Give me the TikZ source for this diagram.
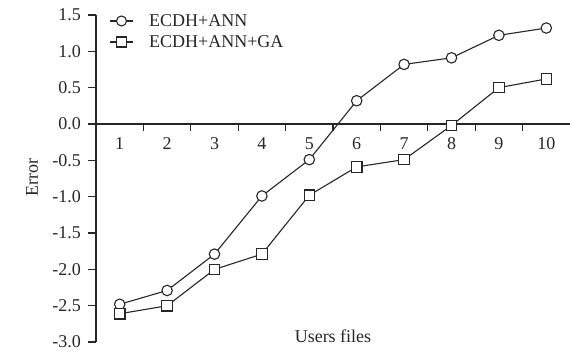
\documentclass[tikz,border=0pt]{standalone}
\usepackage{fontspec}
\setmainfont{Liberation Serif}
\begin{document}
\begin{tikzpicture}[x=1pt,y=1pt,
  axisline/.style={line width=1.3pt,black!85},
  dataline/.style={line width=1.1pt,black!85},
  circmark/.style={circle,draw=black!85,fill=white,line width=1.1pt,inner sep=0pt,minimum size=10.5pt},
  sqmark/.style={rectangle,draw=black!85,fill=white,line width=1.1pt,inner sep=0pt,minimum size=10.5pt},
  lbl/.style={font=\fontsize{18}{20}\selectfont,text=black!85,inner sep=0pt}]
\useasboundingbox (-96,-228) rectangle (474,124);
\def\xu{47.4}
\def\yu{72.7}
% axes
\coordinate (ytop) at (0,1.5*\yu);
\coordinate (ybot) at (0,-3*\yu);
\coordinate (xleft) at (0,0);
\coordinate (xright) at (10*\xu,0);
\draw[axisline] (ytop) -- (ybot);
\draw[axisline] (xleft) -- (xright);
% y ticks and labels
\foreach \v/\t in {1.5/1.5,1.0/1.0,0.5/0.5,0.0/0.0,-0.5/-0.5,-1.0/-1.0,-1.5/-1.5,-2.0/-2.0,-2.5/-2.5,-3.0/-3.0}{
  \draw[axisline] (0,\v*\yu) -- (-8,\v*\yu);
  \node[lbl,anchor=east] (yl\t) at (-15,\v*\yu) {\t};
}
% x ticks and labels
\foreach \k in {1,...,9}{
  \draw[axisline] (\k*\xu,0) -- (\k*\xu,-7);
}
\foreach \i in {1,...,10}{
  \node[lbl] (xl\i) at ({(\i-0.5)*\xu},-20) {\i};
}
% axis titles
\node[lbl,rotate=90] (ytitle) at (-64,-54) {Error};
\node[lbl] (xtitle) at (237,-212) {Users files};
% data series
\foreach \i/\v in {1/-2.48,2/-2.29,3/-1.79,4/-0.99,5/-0.49,6/0.32,7/0.82,8/0.91,9/1.22,10/1.32}{
  \coordinate (a\i) at ({(\i-0.5)*\xu},\v*\yu);
}
\foreach \i/\v in {1/-2.61,2/-2.5,3/-2.0,4/-1.79,5/-0.98,6/-0.59,7/-0.49,8/-0.02,9/0.5,10/0.62}{
  \coordinate (b\i) at ({(\i-0.5)*\xu},\v*\yu);
}
\draw[dataline] (a1) -- (a2) -- (a3) -- (a4) -- (a5) -- (a6) -- (a7) -- (a8) -- (a9) -- (a10);
\draw[dataline] (b1) -- (b2) -- (b3) -- (b4) -- (b5) -- (b6) -- (b7) -- (b8) -- (b9) -- (b10);
\foreach \i in {1,...,10}{
  \node[circmark] (ma\i) at (a\i) {};
  \node[sqmark] (mb\i) at (b\i) {};
}
% legend
\coordinate (l1a) at (14,103);
\coordinate (l1b) at (37,103);
\coordinate (l2a) at (14,82);
\coordinate (l2b) at (37,82);
\draw[dataline] (l1a) -- (l1b);
\draw[dataline] (l2a) -- (l2b);
\node[circmark,minimum size=10pt] (lm1) at (25.5,103) {};
\node[sqmark,minimum size=10pt] (lm2) at (25.5,82) {};
\node[lbl,anchor=west] (lt1) at (53,103) {ECDH+ANN};
\node[lbl,anchor=west] (lt2) at (53,82) {ECDH+ANN+GA};
\end{tikzpicture}
\end{document}
